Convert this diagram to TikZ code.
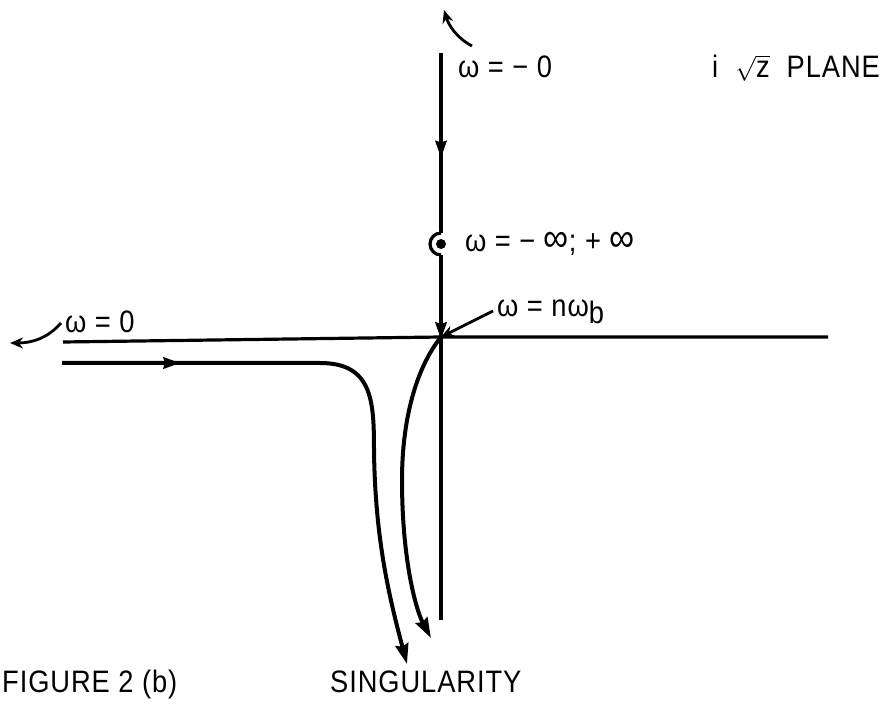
\documentclass[tikz,border=0pt]{standalone}
\usepackage{fontspec}
\setmainfont{Liberation Sans}[FakeStretch=0.88,LetterSpace=3]
\usetikzlibrary{arrows.meta,decorations.markings}

\newcommand{\bigoo}{{\fontsize{40}{40}\selectfont ∞}}

\tikzset{
  axis/.style={line width=3.2pt},
  path/.style={line width=4pt,-{Stealth[length=20pt,width=13pt,inset=2pt]}},
  pointer/.style={line width=2.8pt,-{Stealth[length=13pt,width=11pt]}},
  midarrow/.style={decoration={markings,mark=at position #1 with {\arrow[line width=1pt]{Stealth[length=17pt,width=12pt,inset=2pt]}}},postaction={decorate}},
}

\begin{document}
\begin{tikzpicture}[x=1pt,y=-1pt,every node/.style={font=\fontsize{31}{34}\selectfont,inner sep=0pt}]
                \useasboundingbox (0,0) rectangle (895,719);

                \coordinate (top) at (441,53);
                \coordinate (bumpa) at (441,233);
                \coordinate (bumpb) at (441,255);
                \coordinate (bottom) at (441,620);
                \coordinate (O) at (441,337);
                \coordinate (left) at (63,342);
                \coordinate (right) at (828,337);

                % imaginary axis with indentation round the pole
                \draw[axis,midarrow=0.58] (top) -- (bumpa);
                \draw[axis] (bumpa) arc[start angle=270,end angle=90,radius=11];
                \draw[axis,midarrow=0.23] (bumpb) -- (bottom);
                \fill (441,244) circle (5);

                % real axis
                \draw[axis] (left) -- (O) -- (right);

                % contours to the singularity
                \draw[path,midarrow=118pt] (62,363) -- (320,363)
                    .. controls (372,363) and (374,400) .. (374,450)
                    .. controls (375,540) and (390,600) .. (407,664);
                \draw[path] (O) .. controls (416,368) and (402,420) .. (402,480)
                    .. controls (402,560) and (416,610) .. (431,638);

                % labels
                \node[anchor=west] (wm0) at (458,67) {ω = − 0};
                \draw[pointer] (472,46) .. controls (457,38) and (449,26) .. (444,10);

                \node[anchor=west] (plane) at (712,68) {i \ $\sqrt{\mbox{z}}$ \ PLANE};

                \node[anchor=west] (winf) at (465,244) {ω = − \bigoo; + \bigoo};

                \node[anchor=west] (wnb) at (497,312) {ω = nω\raisebox{-7pt}{b}};
                \draw[pointer] (493,311) -- (O);

                \node[anchor=west] (w0) at (65,322) {ω = 0};
                \draw[pointer] (61,323) .. controls (48,338) and (32,343) .. (10,343);

                \node[anchor=west] (fig) at (2,684) {FIGURE 2 (b)};
                \node[anchor=west] (sing) at (330,682) {SINGULARITY};
\end{tikzpicture}
\end{document}
